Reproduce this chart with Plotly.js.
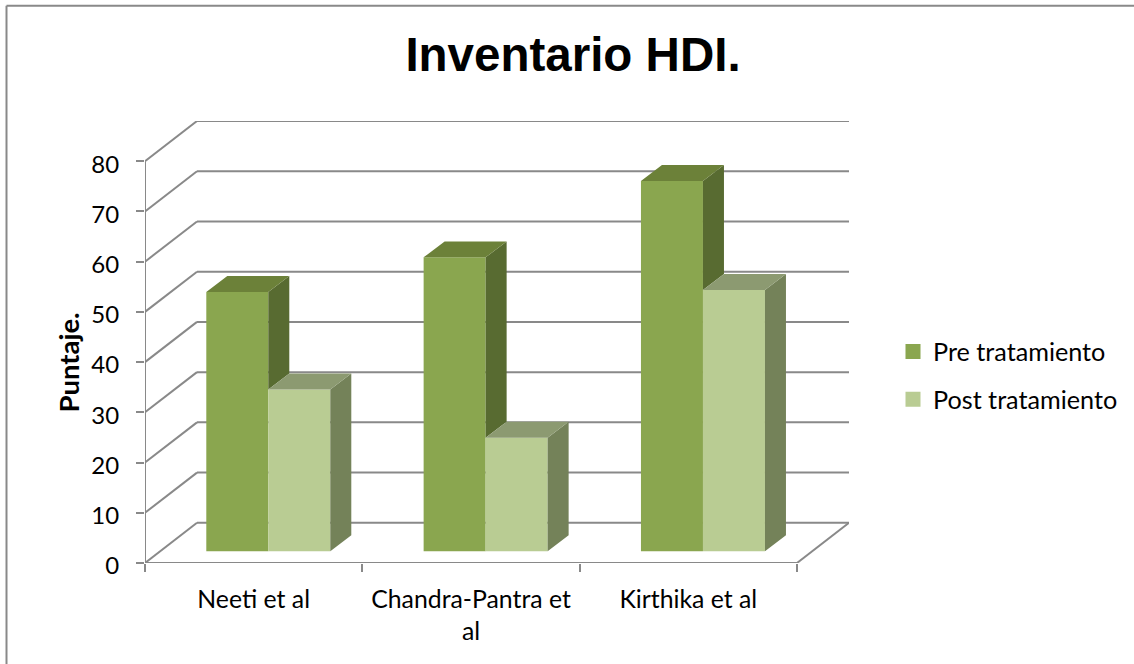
<!DOCTYPE html>
<html>
<head>
<meta charset="utf-8">
<script src="https://cdn.plot.ly/plotly-3.0.1.min.js"></script>
<style>html,body{margin:0;padding:0;background:#fff}</style>
</head>
<body>
<div id="chart" style="width:1134px;height:664px"></div>
<script>
var categories = ["Neeti et al", "Chandra-Pantra et<br>al", "Kirthika et al"];
var seriesPreName = "Pre tratamiento";
var seriesPostName = "Post tratamiento";
var preValues = [51.6, 58.5, 73.7];
var postValues = [32.2, 22.6, 52.0];
var yTicks = [0, 10, 20, 30, 40, 50, 60, 70, 80];
var xBoundaries = [0, 1, 2, 3];

var W = 1134, H = 664;
var plotL = 145, plotR = 849, plotT = 121.4, plotB = 563.5;
var uX = (797 - 145) / 3;
var uY = (plotB - plotT) / 88;
var wallDx = 52 / uX, wallDy = 8;
var xMax = 3 + wallDx;
var barDx = 21 / uX, barDy = 16 / uY;
var barBase = (plotB - 551.7) / uY;
var barShift = (268.3 - 253.67) / uX;
var groupSpan = 124 / uX;
var barW = groupSpan / 2;

var gridColor = "#898989";
var colors = {
  preFront: "#8AA64F", preTop: "#6C8139", preSide: "#586B31",
  postFront: "#B9CC93", postTop: "#8C9A71", postSide: "#748259"
};
var fontName = "Lato, sans-serif";

var shapes = [];
function seg(x0, y0, x1, y1) {
  shapes.push({type: "line", xref: "x", yref: "y", x0: x0, y0: y0, x1: x1, y1: y1,
    layer: "below", line: {color: gridColor, width: 2}});
}
yTicks.forEach(function (v) {
  seg(0, v, wallDx, v + wallDy);
  seg(wallDx, v + wallDy, xMax, v + wallDy);
});
seg(3, 0, xMax, wallDy);
seg(0, 0, 3, 0);
seg(0, 0, 0, 80);
// chart-area frame
shapes.push({type: "line", xref: "paper", yref: "paper",
  x0: (6.5 - plotL) / (plotR - plotL), x1: (W + 5 - plotL) / (plotR - plotL),
  y0: (plotB - 6) / (plotB - plotT), y1: (plotB - 6) / (plotB - plotT),
  line: {color: gridColor, width: 2}});
shapes.push({type: "line", xref: "paper", yref: "paper",
  x0: (6.5 - plotL) / (plotR - plotL), x1: (6.5 - plotL) / (plotR - plotL),
  y0: (plotB - 6) / (plotB - plotT), y1: (plotB - H - 5) / (plotB - plotT),
  line: {color: gridColor, width: 2}});

var centers = categories.map(function (c, i) { return i + 0.5; });
var barX = centers.map(function (c) { return c + barShift; });

function face(build, color, name) {
  var xs = [], ys = [];
  categories.forEach(function (c, i) {
    var p = build(i);
    p.forEach(function (q) { xs.push(q[0]); ys.push(q[1]); });
    xs.push(null); ys.push(null);
  });
  return {type: "scatter", mode: "lines", x: xs, y: ys, fill: "toself", fillcolor: color,
    line: {width: 0, color: color}, showlegend: false, hoverinfo: "skip", name: name};
}
function topFace(values, side) {
  return function (i) {
    var l = barX[i] + (side === 0 ? -barW : 0), r = l + barW, y = barBase + values[i];
    return [[l, y], [r, y], [r + barDx, y + barDy], [l + barDx, y + barDy], [l, y]];
  };
}
function sideFace(values, lows, side) {
  return function (i) {
    var r = barX[i] + (side === 0 ? 0 : barW), y = barBase + values[i], y0 = barBase + (lows ? lows[i] : 0);
    return [[r, y], [r + barDx, y + barDy], [r + barDx, y0 + barDy], [r, y0], [r, y]];
  };
}

var traces = [
  {type: "bar", name: seriesPreName, x: barX, y: preValues, base: barBase,
    marker: {color: colors.preFront}, showlegend: false},
  {type: "bar", name: seriesPostName, x: barX, y: postValues, base: barBase,
    marker: {color: colors.postFront}, showlegend: false},
  face(sideFace(postValues, null, 1), colors.postSide, "post side"),
  face(sideFace(preValues, postValues, 0), colors.preSide, "pre side"),
  face(topFace(preValues, 0), colors.preTop, "pre top"),
  face(topFace(postValues, 1), colors.postTop, "post top"),
  {type: "scatter", mode: "markers", name: seriesPreName, x: [null], y: [null], legendgroup: "a",
    marker: {symbol: "square", size: 15, color: colors.preFront}},
  {type: "scatter", mode: "markers", name: seriesPostName, x: [null], y: [null], legendgroup: "b",
    marker: {symbol: "square", size: 15, color: colors.postFront}}
];

var layout = {
  width: W, height: H, autosize: false,
  paper_bgcolor: "#fff", plot_bgcolor: "rgba(0,0,0,0)",
  margin: {l: plotL, r: W - plotR, t: plotT, b: H - plotB, pad: 0, autoexpand: false},
  font: {family: fontName, color: "#000"},
  title: {text: "<b>Inventario HDI.</b>", font: {family: "Liberation Sans, Arial, sans-serif", size: 47.5, color: "#000"},
    x: 573 / W, xref: "container", xanchor: "center", y: 1 - 71 / H, yref: "container", yanchor: "bottom", pad: {t: 0, b: 0}},
  barmode: "group", bargap: 1 - groupSpan, bargroupgap: 0,
  showlegend: true,
  legend: {x: (893 - plotL) / (plotR - plotL), y: (plotB - 329) / (plotB - plotT), xanchor: "left", yanchor: "top",
    font: {family: fontName, size: 25.2, color: "#000"}, tracegroupgap: 12,
    itemclick: false, itemdoubleclick: false, bgcolor: "rgba(0,0,0,0)"},
  xaxis: {range: [0, xMax], showgrid: false, zeroline: false, showline: false,
    tickmode: "array", tickvals: centers, ticktext: categories, ticks: "", tickangle: 0,
    tickfont: {family: fontName, size: 24.8, color: "#000"}, ticklabelstandoff: 19,
    minor: {tickmode: "array", tickvals: xBoundaries, ticks: "outside", ticklen: 8, tickwidth: 2, tickcolor: gridColor, showgrid: false}},
  yaxis: {range: [0, 88], showgrid: false, zeroline: false, showline: false,
    tickmode: "array", tickvals: yTicks, ticks: "outside", ticklen: 8, tickwidth: 2, tickcolor: gridColor,
    tickfont: {family: fontName, size: 24, color: "#000"}, ticklabelstandoff: 12, ticklabelshift: 3},
  annotations: [{text: "<b>Puntaje.</b>", xref: "paper", yref: "paper",
    x: (69 - plotL) / (plotR - plotL), y: (plotB - 363) / (plotB - plotT), xanchor: "center", yanchor: "middle",
    textangle: -90, showarrow: false, font: {family: fontName, size: 27.5, color: "#000"}}],
  shapes: shapes
};

Plotly.newPlot("chart", traces, layout, {displayModeBar: false, responsive: false});
</script>
</body>
</html>
